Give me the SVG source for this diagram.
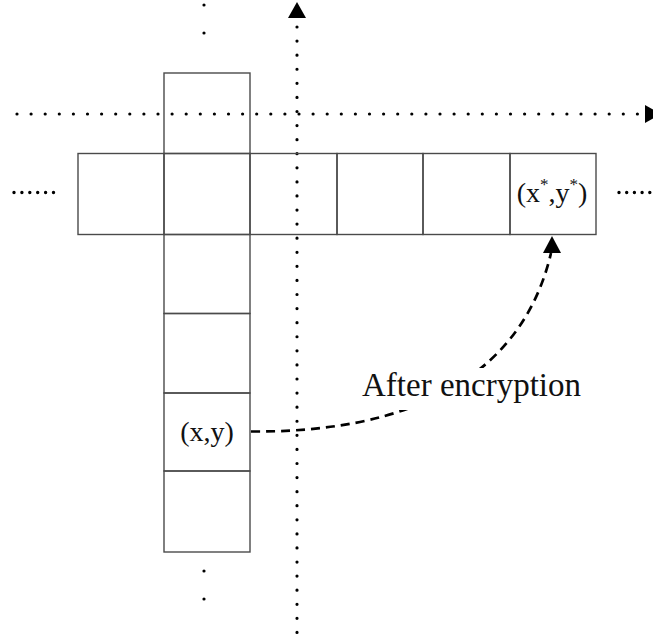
<svg xmlns="http://www.w3.org/2000/svg" width="653" height="640" viewBox="0 0 653 640">
  <style>
    .cell { fill: none; stroke: #4a4a4a; stroke-width: 1.4; }
    .axis { fill: none; stroke: #000; stroke-width: 3.2; stroke-linecap: round; }
    .dots { fill: none; stroke: #000; stroke-width: 3.4; stroke-linecap: round; }
    .head { fill: #000; stroke: none; }
    .lbl  { font-family: "Liberation Serif", "Times New Roman", serif; fill: #111; }
    .flow { fill: none; stroke: #000; stroke-width: 2.7; stroke-dasharray: 9 6; }
  </style>
  <rect width="653" height="640" fill="#fff"/>

  <!-- coordinate axes (dotted) -->
  <g id="axes">
    <path class="axis" d="M297,27 L297,640" stroke-dasharray="0 14.08"/>
    <polygon class="head" points="297,2 306,18 288,18"/>
    <path class="axis" d="M17,114 L640,114" stroke-dasharray="0 14.1"/>
    <polygon class="head" points="645,105 661,114 645,123"/>
  </g>

  <!-- continuation marks -->
  <g id="continuation">
    <path class="axis" d="M204,5 L204,61" stroke-dasharray="0 28"/>
    <path class="axis" d="M204,571 L204,627" stroke-dasharray="0 28"/>
    <path class="dots" d="M14,192.5 L54,192.5" stroke-dasharray="0 7.9"/>
    <path class="dots" d="M619,192.5 L660,192.5" stroke-dasharray="0 7.7"/>
  </g>

  <!-- horizontal row of cells -->
  <g id="row">
    <g id="r0"><rect class="cell" x="78" y="153.5" width="86" height="81"/></g>
    <g id="r2"><rect class="cell" x="250" y="153.5" width="87" height="81"/></g>
    <g id="r3"><rect class="cell" x="337" y="153.5" width="86" height="81"/></g>
    <g id="r4"><rect class="cell" x="423" y="153.5" width="87" height="81"/></g>
    <g id="r5">
      <rect class="cell" x="510" y="153.5" width="86" height="81"/>
      <text class="lbl" x="552" y="202" font-size="28" text-anchor="middle">(x<tspan font-size="17" dy="-12">*</tspan><tspan dy="12">,y</tspan><tspan font-size="17" dy="-12">*</tspan><tspan dy="12">)</tspan></text>
    </g>
  </g>

  <!-- vertical column of cells -->
  <g id="column">
    <g id="c0"><rect class="cell" x="164" y="73" width="86" height="80.5"/></g>
    <g id="c1"><rect class="cell" x="164" y="153.5" width="86" height="81"/></g>
    <g id="c2"><rect class="cell" x="164" y="234.5" width="86" height="79"/></g>
    <g id="c3"><rect class="cell" x="164" y="313.5" width="86" height="79.5"/></g>
    <g id="c4">
      <rect class="cell" x="164" y="393" width="86" height="78"/>
      <text class="lbl" x="207" y="441" font-size="28" text-anchor="middle">(x,y)</text>
    </g>
    <g id="c5"><rect class="cell" x="164" y="471" width="86" height="81"/></g>
  </g>

  <!-- encryption mapping -->
  <g id="connectors">
    <path class="flow" d="M251,431.5 C465,433 532,335 551,253"/>
    <polygon class="head" points="552,236 561,253 543,253"/>
    <rect x="358" y="368" width="226" height="42" fill="#fff"/>
    <text class="lbl" x="362" y="396" font-size="33">After encryption</text>
  </g>
</svg>
